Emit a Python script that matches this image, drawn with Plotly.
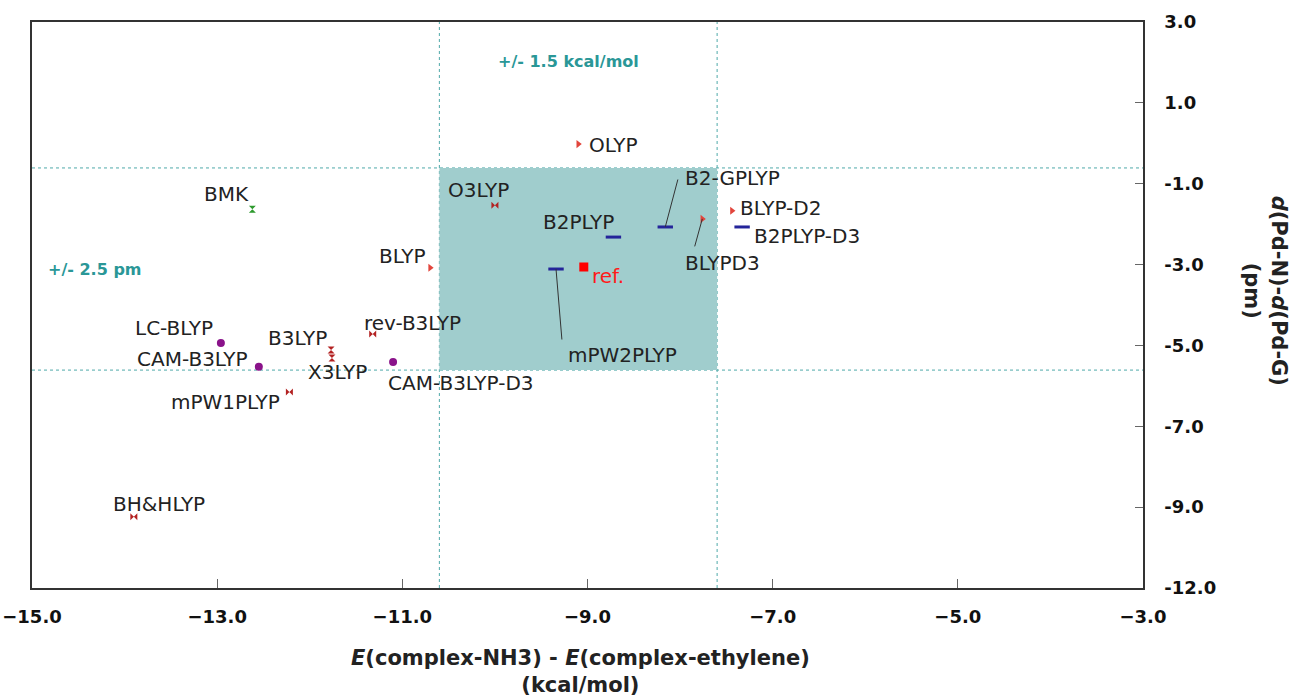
import plotly.graph_objects as go

# ---------------- data ----------------
methods = ["OLYP", "O3LYP", "B2-GPLYP", "B2PLYP", "BLYP-D2", "B2PLYP-D3", "BLYPD3",
           "ref.", "mPW2PLYP", "BLYP", "BMK", "LC-BLYP", "CAM-B3LYP", "B3LYP",
           "X3LYP", "rev-B3LYP", "CAM-B3LYP-D3", "mPW1PLYP", "BH&HLYP"]
dE = [-9.10, -10.00, -8.16, -8.72, -7.44, -7.33, -7.76,
      -9.04, -9.34, -10.70, -12.62, -12.96, -12.55, -11.77,
      -11.76, -11.32, -11.10, -12.22, -13.90]
dR = [-0.02, -1.53, -2.07, -2.32, -1.67, -2.07, -1.87,
      -3.06, -3.11, -3.08, -1.63, -4.94, -5.53, -5.11,
      -5.31, -4.72, -5.41, -6.15, -9.24]
group = ["gga", "hyb", "dh", "dh", "gga", "dh", "gga",
         "ref", "dh", "gga", "bmk", "rsh", "rsh", "hyb2",
         "hyb2", "hyb", "rsh", "hyb", "hyb"]

tol_center = (-9.10, -3.11)
tol_dE = 1.5
tol_dR = 2.5

x_ticks = [-15, -13, -11, -9, -7, -5, -3]
y_ticks = [3, 1, -1, -3, -5, -7, -9, -11]
y_ticktext = ["3.0", "1.0", "-1.0", "-3.0", "-5.0", "-7.0", "-9.0", "-12.0"]

# ---------------- styles ----------------
styles = {
    "gga": dict(symbol="triangle-right", size=7, color="#e2453c", line=dict(width=0)),
    "hyb": dict(symbol="bowtie", size=7, color="#b32222", line=dict(width=0)),
    "hyb2": dict(symbol="hourglass", size=7, color="#b32222", line=dict(width=0)),
    "bmk": dict(symbol="hourglass", size=7, color="#2e9a2e", line=dict(width=0)),
    "rsh": dict(symbol="circle", size=8, color="#8a138a", line=dict(width=0)),
    "dh": dict(symbol="line-ew", size=11, color="#24249a", line=dict(width=3, color="#24249a")),
    "ref": dict(symbol="square", size=9, color="#ff0000", line=dict(width=0)),
}

# label placement: (anchor, xshift px, yshift px)
label_pos = {
    "OLYP": ("left", 9, -1), "O3LYP": ("center", -16, 15), "B2-GPLYP": ("left", 18, 49),
    "B2PLYP": ("right", 3, 15), "BLYP-D2": ("left", 6, 3), "B2PLYP-D3": ("left", 10, -9),
    "BLYPD3": ("center", 20, -44), "ref.": ("left", 6, -9), "mPW2PLYP": ("center", 66, -86),
    "BLYP": ("right", -3, 12), "BMK": ("right", -1, 15), "LC-BLYP": ("right", -6, 15),
    "CAM-B3LYP": ("right", -9, 8), "B3LYP": ("right", -2, 12), "X3LYP": ("center", 6, -14),
    "rev-B3LYP": ("center", 40, 11), "CAM-B3LYP-D3": ("left", -7, -21),
    "mPW1PLYP": ("right", -7, -10), "BH&HLYP": ("center", 25, 13),
}
# leader lines (tail offset in px from the marker)
leaders = {"B2-GPLYP": (13, -49), "BLYPD3": (-8, 29), "mPW2PLYP": (6, 72)}

teal = "#2a9797"
dot_teal = "#4fa9a9"

fig = go.Figure()

for g, st in styles.items():
    xs = [x for x, gg in zip(dE, group) if gg == g]
    ys = [y for y, gg in zip(dR, group) if gg == g]
    fig.add_trace(go.Scatter(x=xs, y=ys, mode="markers", marker=st,
                             showlegend=False, hoverinfo="skip"))

x0, x1 = tol_center[0] - tol_dE, tol_center[0] + tol_dE
y0, y1 = tol_center[1] - tol_dR, tol_center[1] + tol_dR

fig.add_shape(type="rect", x0=x0, x1=x1, y0=y0, y1=y1, xref="x", yref="y",
              fillcolor="#a0cdcd", line=dict(width=0), layer="below")
for xv in (x0, x1):
    fig.add_shape(type="line", x0=xv, x1=xv, y0=0, y1=1, xref="x", yref="paper",
                  line=dict(color=dot_teal, width=1, dash="dot"), layer="below")
for yv in (y0, y1):
    fig.add_shape(type="line", x0=0, x1=1, y0=yv, y1=yv, xref="paper", yref="y",
                  line=dict(color=dot_teal, width=1, dash="dot"), layer="below")

annots = []
for name, x, y in zip(methods, dE, dR):
    anchor, dx, dy = label_pos[name]
    if name in leaders:
        lx, ly = leaders[name]
        annots.append(dict(x=x, y=y, xref="x", yref="y", text="", showarrow=True,
                           arrowhead=0, arrowwidth=1, arrowcolor="#333", ax=lx, ay=ly,
                           standoff=0))
    annots.append(dict(x=x, y=y, xref="x", yref="y", text=name.replace("&", "&amp;"),
                       showarrow=False,
                       xanchor=anchor, yanchor="middle", xshift=dx, yshift=dy,
                       font=dict(family="DejaVu Sans", size=20,
                                 color="#ff1a1a" if name == "ref." else "#222")))

annots.append(dict(x=tol_center[0], y=0.931, xref="x", yref="paper", xshift=-10,
                   xanchor="center", yanchor="middle",
                   text="+/- 1.5 kcal/mol", showarrow=False,
                   font=dict(family="DejaVu Sans", size=16, color=teal, weight="bold")))
annots.append(dict(x=0.0567, y=tol_center[1], xref="paper", yref="y",
                   xanchor="center", yanchor="middle",
                   text="+/- 2.5 pm", showarrow=False,
                   font=dict(family="DejaVu Sans", size=16, color=teal, weight="bold")))
annots.append(dict(x=0.5, y=-0.148, xref="paper", yref="paper", xshift=-7,
                   xanchor="center", yanchor="middle",
                   text="<i>E</i>(complex-NH3) - <i>E</i>(complex-ethylene)<br>(kcal/mol)",
                   showarrow=False,
                   font=dict(family="DejaVu Sans", size=21, color="#222", weight="bold")))
annots.append(dict(x=1.11, y=0.525, xref="paper", yref="paper", textangle=90,
                   text="<i>d</i>(Pd-N)-<i>d</i>(Pd-G)<br>(pm)",
                   showarrow=False, xanchor="center", yanchor="middle",
                   font=dict(family="DejaVu Sans", size=21, color="#222", weight="bold")))

fig.update_layout(
    width=1291, height=697,
    margin=dict(l=32, r=148, t=22, b=109),
    plot_bgcolor="white", paper_bgcolor="white",
    annotations=annots,
    xaxis=dict(range=[-15, -3], tickvals=x_ticks, tickformat=".1f", automargin=False,
               showgrid=False, zeroline=False, showline=True, mirror=True,
               linecolor="#333", linewidth=1.5, ticks="inside", ticklen=9,
               tickcolor="#666", ticklabelstandoff=12,
               tickfont=dict(family="DejaVu Sans", size=18, color="#111", weight="bold")),
    yaxis=dict(range=[-11, 3], side="right", tickvals=y_ticks, ticktext=y_ticktext,
               automargin=False,
               showgrid=False, zeroline=False, showline=True, mirror=True,
               linecolor="#333", linewidth=1.5, ticks="inside", ticklen=8,
               tickcolor="#666", ticklabelstandoff=16,
               tickfont=dict(family="DejaVu Sans", size=18, color="#111", weight="bold")),
)

fig.write_html("out.html")
